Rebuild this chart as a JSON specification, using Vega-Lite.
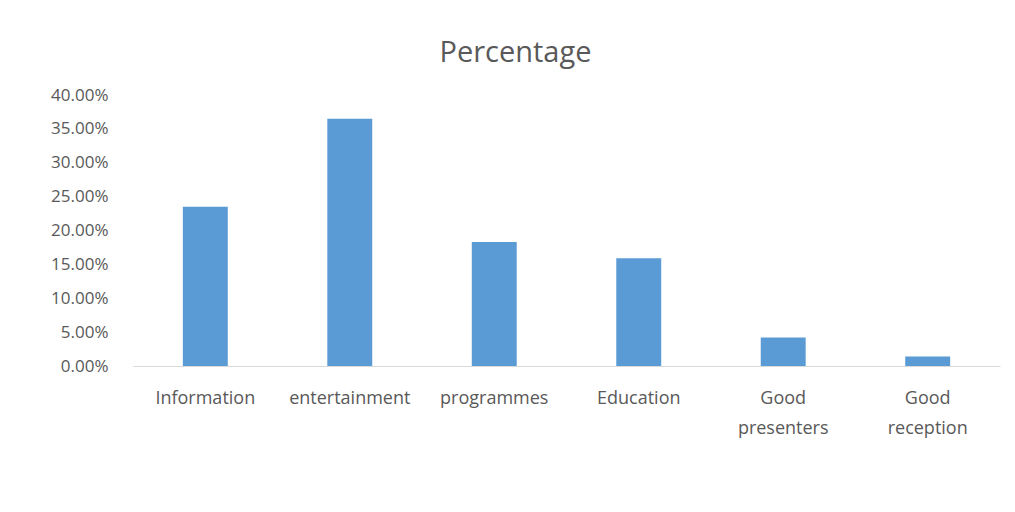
{
  "$schema": "https://vega.github.io/schema/vega-lite/v6.json",
  "autosize": "none",
  "width": 867,
  "height": 271,
  "padding": {"left": 133, "top": 95, "right": 15, "bottom": 146},
  "background": "white",
  "config": {
    "view": {"stroke": null},
    "font": "Open Sans"
  },
  "title": {
    "text": "Percentage",
    "anchor": "middle",
    "dx": -51,
    "offset": 18,
    "fontSize": 29,
    "fontWeight": "normal",
    "color": "#595959",
    "font": "Open Sans"
  },
  "data": {
    "values": [
      {"category": "Information", "value": 0.235},
      {"category": "entertainment", "value": 0.365},
      {"category": "programmes", "value": 0.183},
      {"category": "Education", "value": 0.159},
      {"category": "Good presenters", "value": 0.042},
      {"category": "Good reception", "value": 0.014}
    ]
  },
  "mark": {"type": "bar", "color": "#5B9BD5"},
  "encoding": {
    "x": {
      "field": "category",
      "type": "nominal",
      "sort": null,
      "scale": {"paddingInner": 0.689, "paddingOuter": 0.345},
      "axis": {
        "title": null,
        "labelAngle": 0,
        "ticks": false,
        "tickSize": 0,
        "labelPadding": 23,
        "labelFontSize": 18,
        "labelColor": "#595959",
        "labelLineHeight": 30,
        "labelExpr": "split(datum.label, ' ')",
        "domainColor": "#d9d9d9",
        "domainWidth": 1
      }
    },
    "y": {
      "field": "value",
      "type": "quantitative",
      "scale": {"domain": [0, 0.4], "nice": false},
      "axis": {
        "title": null,
        "format": ".2%",
        "values": [0, 0.05, 0.1, 0.15, 0.2, 0.25, 0.3, 0.35, 0.4],
        "grid": false,
        "domain": false,
        "ticks": false,
        "tickSize": 0,
        "labelPadding": 25,
        "labelFontSize": 17,
        "labelColor": "#595959"
      }
    }
  }
}
